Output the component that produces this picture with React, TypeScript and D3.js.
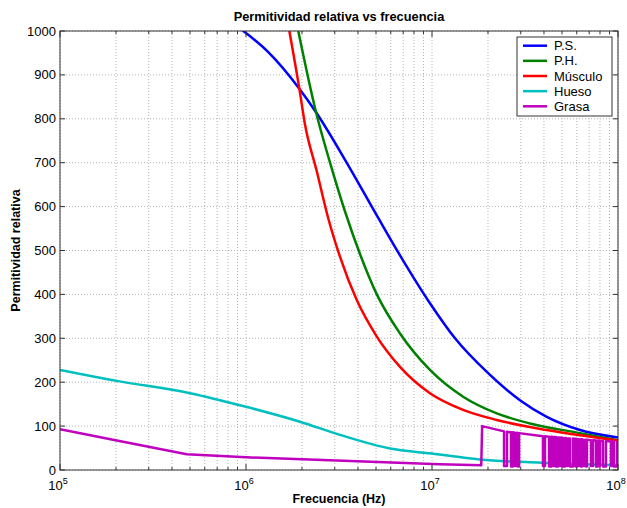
import React from "react";
import * as d3 from "d3";

const W = 627, H = 508;
const M = { left: 60, right: 618, top: 31, bottom: 470 };

const yTicks = [0, 100, 200, 300, 400, 500, 600, 700, 800, 900, 1000];
const decades = [5, 6, 7, 8];

// P.S.
const psF = [9.0e5, 1.31e6, 1.94e6, 2.38e6, 3.47e6, 5.05e6, 6.73e6, 9.75e6, 1.33e7, 2.01e7, 2.97e7, 4.14e7, 6.25e7, 1e8];
const psV = [1010, 953, 868, 815, 701, 580, 489, 380, 300, 220, 159, 121, 91, 74];
// P.H.
const phF = [1.91e6, 2.38e6, 2.83e6, 3.40e6, 4.10e6, 5.05e6, 6.73e6, 9.75e6, 1.47e7, 2.23e7, 3.36e7, 6.25e7, 1e8];
const phV = [1000, 815, 700, 590, 492, 400, 311, 228, 167, 129, 106, 84, 68];
// Músculo
const muF = [1.71e6, 1.94e6, 2.07e6, 2.40e6, 2.77e6, 3.20e6, 3.94e6, 5.05e6, 6.73e6, 9.75e6, 1.47e7, 2.23e7, 4.14e7, 1e8];
const muV = [1000, 866, 790, 681, 573, 486, 387, 304, 235, 175, 137, 114, 91, 67];
// Hueso
const huF = [1e5, 2.02e5, 5.0e5, 1e6, 1.95e6, 3.2e6, 5.94e6, 9.75e6, 1.81e7, 3.36e7, 1e8];
const huV = [228, 203, 175, 144, 110, 80, 49, 38, 24, 17.5, 11];
// Grasa
const grF = [
  1e5, 2.02e5, 4.8e5, 1e6, 1.1e7, 1.84e7, 1.86e7,
  2.44e7, 2.44e7, 2.53e7, 2.53e7,
  2.66e7, 2.66e7, 2.72e7, 2.72e7,
  2.79e7, 2.79e7, 2.86e7, 2.86e7,
  2.90e7, 2.90e7, 2.94e7, 2.94e7,
  3.95e7, 3.95e7, 4.05e7, 4.05e7,
  4.26e7, 4.26e7, 4.37e7, 4.37e7,
  4.42e7, 4.42e7, 4.53e7, 4.53e7,
  4.64e7, 4.64e7, 4.76e7, 4.76e7,
  4.82e7, 4.82e7, 4.94e7, 4.94e7,
  5.06e7, 5.06e7, 5.19e7, 5.19e7,
  5.25e7, 5.25e7, 5.38e7, 5.38e7,
  5.52e7, 5.52e7, 5.73e7, 5.73e7,
  5.80e7, 5.80e7, 5.87e7, 5.87e7,
  5.94e7, 5.94e7, 6.02e7, 6.02e7,
  6.10e7, 6.10e7, 6.25e7, 6.25e7,
  6.33e7, 6.33e7, 6.40e7, 6.40e7,
  6.48e7, 6.48e7, 6.65e7, 6.65e7,
  6.73e7, 6.73e7, 6.81e7, 6.81e7,
  7.16e7, 7.16e7, 7.34e7, 7.34e7,
  7.62e7, 7.62e7, 7.80e7, 7.80e7,
  7.90e7, 7.90e7, 8.00e7, 8.00e7,
  8.30e7, 8.30e7, 8.61e7, 8.61e7,
  9.16e7, 9.16e7, 9.39e7, 9.39e7,
  9.51e7, 9.51e7, 9.88e7, 9.88e7,
  1e8,
];
const grV = [
  93, 67, 36, 29, 13, 11, 100,
  88, 9, 9, 87,
  86, 8, 8, 86,
  85, 9, 9, 85,
  84, 8, 8, 84,
  77, 9, 9, 77,
  76, 8, 8, 76,
  76, 9, 9, 75,
  75, 8, 8, 74,
  74, 9, 9, 74,
  73, 8, 8, 73,
  73, 9, 9, 72,
  72, 8, 8, 72,
  71, 9, 9, 71,
  71, 8, 8, 70,
  70, 9, 9, 70,
  70, 8, 8, 70,
  69, 9, 9, 69,
  69, 8, 8, 69,
  68, 9, 9, 68,
  67, 8, 8, 67,
  67, 9, 9, 66,
  66, 8, 8, 66,
  65, 9, 9, 65,
  65, 8, 8, 64,
  64,
];

const series = [
  { name: "P.S.", f: psF, v: psV, color: "#0000ff", smooth: true },
  { name: "P.H.", f: phF, v: phV, color: "#008000", smooth: true },
  { name: "Músculo", f: muF, v: muV, color: "#ff0000", smooth: true },
  { name: "Hueso", f: huF, v: huV, color: "#00bfbf", smooth: true },
  { name: "Grasa", f: grF, v: grV, color: "#bf00bf", smooth: false },
];

export default function App() {
  const x = d3.scaleLog().domain([1e5, 1e8]).range([M.left, M.right]);
  const y = d3.scaleLinear().domain([0, 1000]).range([M.bottom, M.top]);

  const minor: number[] = [];
  decades.slice(0, 3).forEach((d) => {
    for (let k = 2; k <= 9; k++) minor.push(k * Math.pow(10, d));
  });
  const grid = "#b4b4b4";
  const axisCol = "#333";
  const font = "Arial, 'Liberation Sans', Helvetica, sans-serif";

  const paths = series.map((s) => {
    const pts = s.f.map((f, i) => [f, s.v[i]] as [number, number]);
    const line = d3
      .line<[number, number]>()
      .x((d) => x(d[0]))
      .y((d) => y(d[1]))
      .curve(s.smooth ? d3.curveMonotoneX : d3.curveLinear);
    return { ...s, d: line(pts) || "" };
  });

  const legX = 517, legY = 37, legW = 95, legH = 79;

  return (
    <svg width={W} height={H} style={{ position: "absolute", left: 0, top: 0, background: "#fff" }} fontFamily={font}>
      <rect x={0} y={0} width={W} height={H} fill="#fff" />
      <defs>
        <clipPath id="plot">
          <rect x={M.left} y={M.top} width={M.right - M.left} height={M.bottom - M.top} />
        </clipPath>
      </defs>
      {/* grid */}
      {yTicks.map((t) => (
        <line key={"gy" + t} x1={M.left} x2={M.right} y1={y(t)} y2={y(t)} stroke={grid} strokeDasharray="1,2" />
      ))}
      {[...minor, ...decades.map((d) => Math.pow(10, d))].map((t) => (
        <line key={"gx" + t} x1={x(t)} x2={x(t)} y1={M.top} y2={M.bottom} stroke={grid} strokeDasharray="1,2" />
      ))}
      {/* curves */}
      <g clipPath="url(#plot)">
        {paths.map((p) => (
          <path key={p.name} d={p.d} fill="none" stroke={p.color} strokeWidth={2.5} strokeLinejoin="round" />
        ))}
      </g>
      {/* box */}
      <rect x={M.left} y={M.top} width={M.right - M.left} height={M.bottom - M.top} fill="none" stroke={axisCol} strokeWidth={1} />
      {/* ticks */}
      {yTicks.map((t) => (
        <g key={"ty" + t}>
          <line x1={M.left} x2={M.left + 5} y1={y(t)} y2={y(t)} stroke={axisCol} />
          <line x1={M.right} x2={M.right - 5} y1={y(t)} y2={y(t)} stroke={axisCol} />
          <text x={M.left - 4} y={y(t)} dy="0.35em" textAnchor="end" fontSize={13} fill="#000">
            {t}
          </text>
        </g>
      ))}
      {minor.map((t) => (
        <g key={"tm" + t}>
          <line x1={x(t)} x2={x(t)} y1={M.bottom} y2={M.bottom - 3} stroke={axisCol} />
          <line x1={x(t)} x2={x(t)} y1={M.top} y2={M.top + 3} stroke={axisCol} />
        </g>
      ))}
      {decades.map((d) => {
        const xv = x(Math.pow(10, d));
        return (
          <g key={"td" + d}>
            <line x1={xv} x2={xv} y1={M.bottom} y2={M.bottom - 6} stroke={axisCol} />
            <line x1={xv} x2={xv} y1={M.top} y2={M.top + 6} stroke={axisCol} />
            <text x={xv - 2} y={490} textAnchor="middle" fontSize={13} fill="#000">
              10
              <tspan dy={-6} fontSize={9}>
                {d}
              </tspan>
            </text>
          </g>
        );
      })}
      {/* title & labels */}
      <text x={(M.left + M.right) / 2} y={21} textAnchor="middle" fontSize={12.8} fontWeight="bold">
        Permitividad relativa vs frecuencia
      </text>
      <text x={(M.left + M.right) / 2} y={503} textAnchor="middle" fontSize={12.5} fontWeight="bold">
        Frecuencia (Hz)
      </text>
      <text transform={`translate(20,${(M.top + M.bottom) / 2}) rotate(-90)`} textAnchor="middle" fontSize={12.5} fontWeight="bold">
        Permitividad relativa
      </text>
      {/* legend */}
      <rect x={legX} y={legY} width={legW} height={legH} fill="#fff" stroke={axisCol} />
      {series.map((s, i) => {
        const ly = 45.7 + i * 15.15;
        return (
          <g key={"lg" + s.name}>
            <line x1={523} x2={547} y1={ly} y2={ly} stroke={s.color} strokeWidth={2.5} />
            <text x={554} y={ly} dy="0.35em" fontSize={13} fill="#000">
              {s.name}
            </text>
          </g>
        );
      })}
    </svg>
  );
}
